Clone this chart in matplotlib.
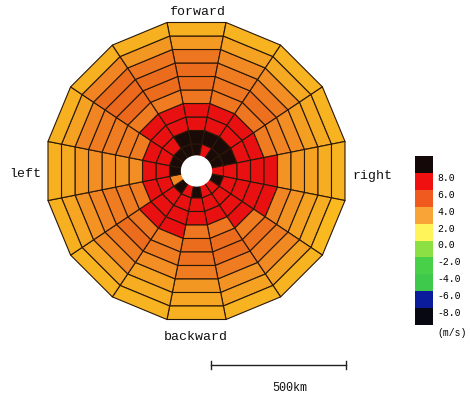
import numpy as np
import matplotlib
matplotlib.use('Agg')
import matplotlib.pyplot as plt
from matplotlib.collections import PolyCollection
from matplotlib.colors import LinearSegmentedColormap, ListedColormap, BoundaryNorm
from matplotlib.patches import Circle
import matplotlib.colorbar as mcolorbar

# 16 sectors, clockwise from "forward"; 10 rings of 50 km, inner to outer
sector_deg = np.arange(16) * 22.5
ring_edges_km = np.arange(50, 551, 50)
hole_km = 58

# wind speed (m/s) per sector, ring 0 (inner) .. ring 9 (outer)
speed = [
    [9, 9, 7, 7, 4.2, 4.5, 4.5, 4.2, 3.2, 2.6],    # forward
    [7, 9, 7, 7, 4.2, 4.2, 4.0, 3.6, 3.0, 2.5],
    [9, 9, 7, 7, 4.2, 4.4, 4.0, 3.5, 2.8, 2.5],
    [9, 9, 7, 7, 4.0, 3.8, 3.5, 3.1, 2.8, 2.5],
    [7, 7, 7, 7, 7, 3.4, 3.2, 3.0, 2.7, 2.5],      # right
    [9, 7, 7, 7, 7, 3.8, 3.4, 3.0, 2.7, 2.4],
    [7, 7, 7, 7, 4.0, 4.4, 4.0, 3.6, 3.0, 2.5],
    [7, 7, 7, 4.2, 4.5, 4.5, 4.0, 3.4, 3.0, 2.5],
    [9, 7, 7, 4.2, 4.5, 4.4, 4.0, 3.3, 2.9, 2.6],  # backward
    [7, 7, 7, 7, 4.0, 4.0, 3.5, 3.0, 2.7, 2.5],
    [9, 7, 7, 7, 4.2, 4.5, 4.0, 3.6, 2.9, 2.5],
    [3.8, 7, 7, 4.0, 4.0, 4.0, 3.8, 3.4, 2.9, 2.6],
    [9, 7, 7, 3.5, 3.4, 3.5, 3.5, 3.2, 2.8, 2.6],  # left
    [9, 7, 7, 4.0, 4.0, 4.0, 4.0, 3.8, 3.0, 2.6],
    [9, 7, 7, 7, 4.0, 4.6, 4.6, 4.5, 3.8, 2.6],
    [9, 9, 7, 7, 4.0, 4.5, 4.5, 4.2, 3.3, 2.6],
]

cbar_levels = [-10, -8, -6, -4, -2, 0, 2, 4, 6, 8, 10]
cbar_colors = ['#080812', '#0a1c9c', '#3ec84c', '#48d048', '#8ce044',
               '#fff45a', '#f8a436', '#f05a1e', '#f01010', '#140808']
tick_labels = ['-8.0', '-6.0', '-4.0', '-2.0', '0.0', '2.0', '4.0', '6.0', '8.0']

# continuous shading used inside the disk
nodes = [(2.0, '#fcc81c'), (2.5, '#f8b420'), (3.0, '#f5a222'), (3.5, '#f28e24'),
         (4.0, '#f07c22'), (4.5, '#ec6c1e'), (5.0, '#e8581a'), (5.5, '#e63a16'),
         (6.0, '#e81010'), (8.0, '#e81010'), (8.01, '#1a0a08'), (10.0, '#1a0a08')]
cell_cmap = LinearSegmentedColormap.from_list(
    'cells', [((v - 2) / 8.0, c) for v, c in nodes])

px = 0.27  # pixels per km
cx, cy = 196.5, 171.0
W, H = 470, 397

plt.rcParams['font.family'] = ['Liberation Mono', 'DejaVu Sans Mono']
fig = plt.figure(figsize=(W / 100, H / 100), dpi=100)
ax = fig.add_axes([0, 0, 1, 1])
ax.set_xlim(-cx / px, (W - cx) / px)
ax.set_ylim((cy - H) / px, cy / px)
ax.set_aspect('equal')
ax.axis('off')

half = np.deg2rad(11.25)
polys = []
vals = []
for s, deg in enumerate(sector_deg):
    a0 = np.deg2rad(deg) - half
    a1 = np.deg2rad(deg) + half
    for r in range(len(ring_edges_km) - 1):
        rin = ring_edges_km[r] / np.cos(half)
        rout = ring_edges_km[r + 1] / np.cos(half)
        poly = [(rin * np.sin(a0), rin * np.cos(a0)),
                (rin * np.sin(a1), rin * np.cos(a1)),
                (rout * np.sin(a1), rout * np.cos(a1)),
                (rout * np.sin(a0), rout * np.cos(a0))]
        polys.append(poly)
        vals.append(speed[s][r])

pc = PolyCollection(polys, array=np.array(vals), cmap=cell_cmap,
                    edgecolors='#2a1808', linewidths=0.8)
pc.set_clim(2, 10)
ax.add_collection(pc)
ax.add_patch(Circle((0, 0), hole_km, facecolor='white', edgecolor='none', zorder=3))

tf = dict(fontsize=9.5, ha='center', va='center', color='#111111')
ax.text(2, 589, 'forward', **tf)
ax.text(-2, -615, 'backward', **tf)
ax.text(-635, -11, 'left', **tf)
ax.text(650, -18, 'right', **tf)

# scale bar
x0, yb = 54, -718
ax.plot([x0, x0 + 500], [yb, yb], color='#222222', lw=1.0)
ax.plot([x0, x0], [yb - 14, yb + 14], color='#222222', lw=1.0)
ax.plot([x0 + 500, x0 + 500], [yb - 14, yb + 14], color='#222222', lw=1.0)
ax.text(x0 + 290, -802, '500km', fontsize=8.5, ha='center', va='center', color='#111111')

# colour bar
cax = fig.add_axes([415 / W, 1 - 325 / H, 18 / W, 169 / H])
cb = mcolorbar.ColorbarBase(cax, cmap=ListedColormap(cbar_colors),
                            norm=BoundaryNorm(cbar_levels, 10), orientation='vertical')
cb.outline.set_visible(False)
cb.set_ticks(cbar_levels[1:-1])
cb.set_ticklabels(tick_labels)
cax.minorticks_off()
cax.tick_params(which='both', length=0, pad=3, labelsize=7)
for lbl in cax.get_yticklabels():
    lbl.set_va('top')
fig.text(452 / W, 1 - 333 / H, '(m/s)', fontsize=7, ha='center', va='center')

fig.savefig('out.png', dpi=100)
